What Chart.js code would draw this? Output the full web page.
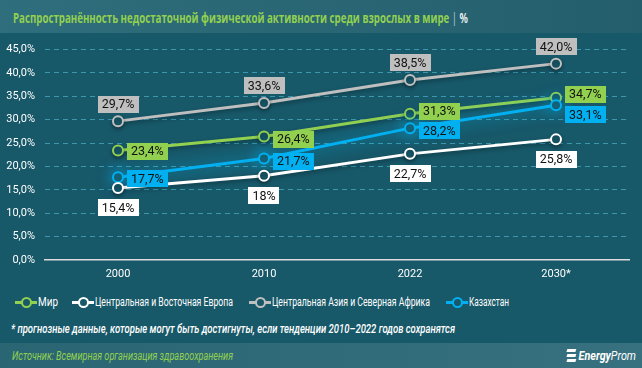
<!DOCTYPE html>
<html>
<head>
<meta charset="utf-8">
<script src="https://cdn.jsdelivr.net/npm/chart.js@4/dist/chart.umd.min.js"></script>
<style>
  body { margin: 0; }
  #wrap { position: relative; width: 642px; height: 368px; background: #175869; overflow: hidden; font-family: Roboto, "Noto Sans", sans-serif; }
  #title { position: absolute; left: 0; top: 0; width: 642px; height: 33px; background: linear-gradient(90deg, #2f6e7c, #245e6c); }
  .fit { position: absolute; white-space: nowrap; transform-origin: 0 50%; }
  #ttl { left: 13px; top: 7px; font: bold 15px "Open Sans", sans-serif; color: #92d050; }
  #ttl b { color: #fff; font-weight: 300; }
  #chart { position: absolute; left: 0; top: 33px; }
  #legend { position: absolute; left: 0; top: 295px; width: 642px; height: 14px; color: #fff; font: 12.5px Roboto, sans-serif; line-height: 14px; }
  #legend .ic { position: absolute; top: 1px; width: 22px; height: 12px; }
  #legend .ic i { position: absolute; left: 0; top: 5px; width: 22px; height: 3px; }
  #legend .ic u { position: absolute; left: 6px; top: 1px; width: 7px; height: 7px; border-radius: 50%; border: 2px solid; background: #175869; }
  #note { left: 11px; top: 321px; color: #fff; font: italic 500 13px Roboto, sans-serif; }
  #src { position: absolute; left: 0; top: 343px; width: 642px; height: 25px; background: linear-gradient(90deg, #2a6573, #37717f); }
  #srcText { left: 12px; top: 5px; color: #92d050; font: italic 12.5px Roboto, sans-serif; }
  #logo { left: 566px; top: 5px; color: #fff; font: italic bold 12px Roboto, sans-serif; }
  #logo em { font-weight: normal; }
  #logo .bars { display: inline-block; width: 12px; height: 14px; vertical-align: -2px; margin-right: 2px; position: relative; }
  #logo .bars i { position: absolute; left: 1px; width: 10px; height: 3px; background: #fff; transform: skewX(-20deg); }
</style>
</head>
<body>
<div id="wrap">
  <div id="title"><span id="ttl" class="fit">Распространённость недостаточной физической активности среди взрослых в мире <b>|</b> <b style="font-weight:600">%</b></span></div>
  <canvas id="chart" width="642" height="258"></canvas>
  <div id="legend"></div>
  <span id="note" class="fit">* прогнозные данные, которые могут быть достигнуты, если тенденции 2010–2022 годов сохранятся</span>
  <div id="src"><span id="srcText" class="fit">Источник: Всемирная организация здравоохранения</span>
    <span id="logo" class="fit"><span class="bars"><i style="top:1px"></i><i style="top:6px"></i><i style="top:11px"></i></span>Energy<em>Prom</em></span>
  </div>
</div>
<script>
const years = ["2000", "2010", "2022", "2030*"];
const seriesNames = ["Мир", "Центральная и Восточная Европа", "Центральная Азия и Северная Африка", "Казахстан"];
const world = [23.4, 26.4, 31.3, 34.7];
const europe = [15.4, 18, 22.7, 25.8];
const asiaAfrica = [29.7, 33.6, 38.5, 42.0];
const kazakhstan = [17.7, 21.7, 28.2, 33.1];

const bg = "#175869";
const colors = ["#92d050", "#ffffff", "#bfbfbf", "#00b0f0"];

//squeeze text to the width it has in the picture (Calibri is narrow)
const fit = (el, w) => {
  const r = w / el.getBoundingClientRect().width;
  el.style.transform = `scaleX(${r})`;
};

const fmt = (v, d) => (d ? v.toFixed(1) : String(v)).replace(".", ",") + "%";

const makeSet = (i, data, pos, order, decimals, glow, dy) => ({
  label: seriesNames[i],
  data: data,
  borderColor: colors[i],
  backgroundColor: colors[i],
  pointBackgroundColor: bg,
  pointBorderColor: colors[i],
  pointBorderWidth: 2,
  pointRadius: 5,
  borderWidth: 3,
  order: order,
  labelPos: pos,
  labelDy: dy || [0, 0, 0, 0],
  decimals: decimals,
  glow: glow
});

//shadow under lines, glow for Kazakhstan
const glowPlugin = {
  id: "glow",
  beforeDatasetDraw(chart, args) {
    const ctx = chart.ctx;
    const g = chart.data.datasets[args.index].glow;
    ctx.save();
    ctx.shadowColor = g.color;
    ctx.shadowBlur = g.blur;
    ctx.shadowOffsetY = g.dy;
  },
  afterDatasetDraw(chart) {
    chart.ctx.restore();
  }
};

//value boxes next to points
const boxLabels = {
  id: "boxLabels",
  afterDatasetsDraw(chart) {
    const ctx = chart.ctx;
    ctx.save();
    ctx.font = "12.5px Roboto, sans-serif";
    ctx.textAlign = "center";
    ctx.textBaseline = "middle";
    chart.data.datasets.forEach((ds, i) => {
      chart.getDatasetMeta(i).data.forEach((pt, j) => {
        const txt = fmt(ds.data[j], ds.decimals);
        const w = ctx.measureText(txt).width + 8;
        const h = 17;
        let cx = pt.x, cy = pt.y;
        if (ds.labelPos === "top") cy = pt.y - 17;
        if (ds.labelPos === "bottom") cy = pt.y + 20;
        if (ds.labelPos === "right") { cx = pt.x + 9 + w / 2; cy = pt.y + 0.5; }
        cy += ds.labelDy[j];
        ctx.fillStyle = ds.borderColor;
        ctx.fillRect(Math.round(cx - w / 2), Math.round(cy - h / 2), Math.round(w), h);
        ctx.fillStyle = "#111";
        ctx.fillText(txt, cx, cy + 1);
      });
    });
    ctx.restore();
  }
};

new Chart(document.getElementById("chart"), {
  type: "line",
  data: {
    labels: years,
    datasets: [
      makeSet(0, world, "right", 3, true, { color: "rgba(0,0,0,0.35)", blur: 4, dy: 2 }, [0, 2, -3, -4]),
      makeSet(1, europe, "bottom", 1, false, { color: "rgba(0,0,0,0.35)", blur: 4, dy: 2 }),
      makeSet(2, asiaAfrica, "top", 4, true, { color: "rgba(0,0,0,0.35)", blur: 4, dy: 2 }),
      makeSet(3, kazakhstan, "right", 2, true, { color: "rgba(0,190,255,0.8)", blur: 16, dy: 0 }, [1, 2, 2, 9])
    ]
  },
  options: {
    responsive: false,
    animation: false,
    devicePixelRatio: 1,
    layout: { padding: { top: 15, right: 13, left: 0, bottom: 11 } },
    plugins: { legend: { display: false }, tooltip: { enabled: false } },
    scales: {
      x: {
        offset: true,
        grid: { display: false, drawTicks: false },
        border: { display: true, color: "#dcdcdc", width: 1.5 },
        ticks: { color: "#fff", font: { family: "Roboto", size: 11 }, padding: 8 },
        afterFit: s => { s.height = 20; }
      },
      y: {
        min: 0,
        max: 45,
        grid: { color: c => c.tick.value === 0 ? "transparent" : "#3a97ad", drawTicks: false },
        border: { display: false, dash: [5, 4] },
        ticks: { stepSize: 5, color: "#fff", font: { family: "Roboto", size: 11 }, padding: 10,
          callback: v => v.toFixed(1).replace(".", ",") + "%" },
        afterFit: s => { s.width = 45; }
      }
    }
  },
  plugins: [glowPlugin, boxLabels]
});

//legend with line + circle icons, placed like the picture
const legendLeft = [15, 72, 249, 446];
const legendWidth = [20, 138, 158, 40];
const legend = document.getElementById("legend");
seriesNames.forEach((name, i) => {
  const ic = document.createElement("span");
  ic.className = "ic";
  ic.style.left = legendLeft[i] + "px";
  ic.innerHTML = `<i style="background:${colors[i]}"></i><u style="border-color:${colors[i]}"></u>`;
  legend.appendChild(ic);
  const t = document.createElement("span");
  t.className = "fit";
  t.style.left = (legendLeft[i] + 23) + "px";
  t.style.top = "0px";
  t.textContent = name;
  legend.appendChild(t);
  fit(t, legendWidth[i]);
});

fit(document.getElementById("ttl"), 455);
fit(document.getElementById("note"), 444);
fit(document.getElementById("srcText"), 221);
fit(document.getElementById("logo"), 70);
</script>
</body>
</html>
